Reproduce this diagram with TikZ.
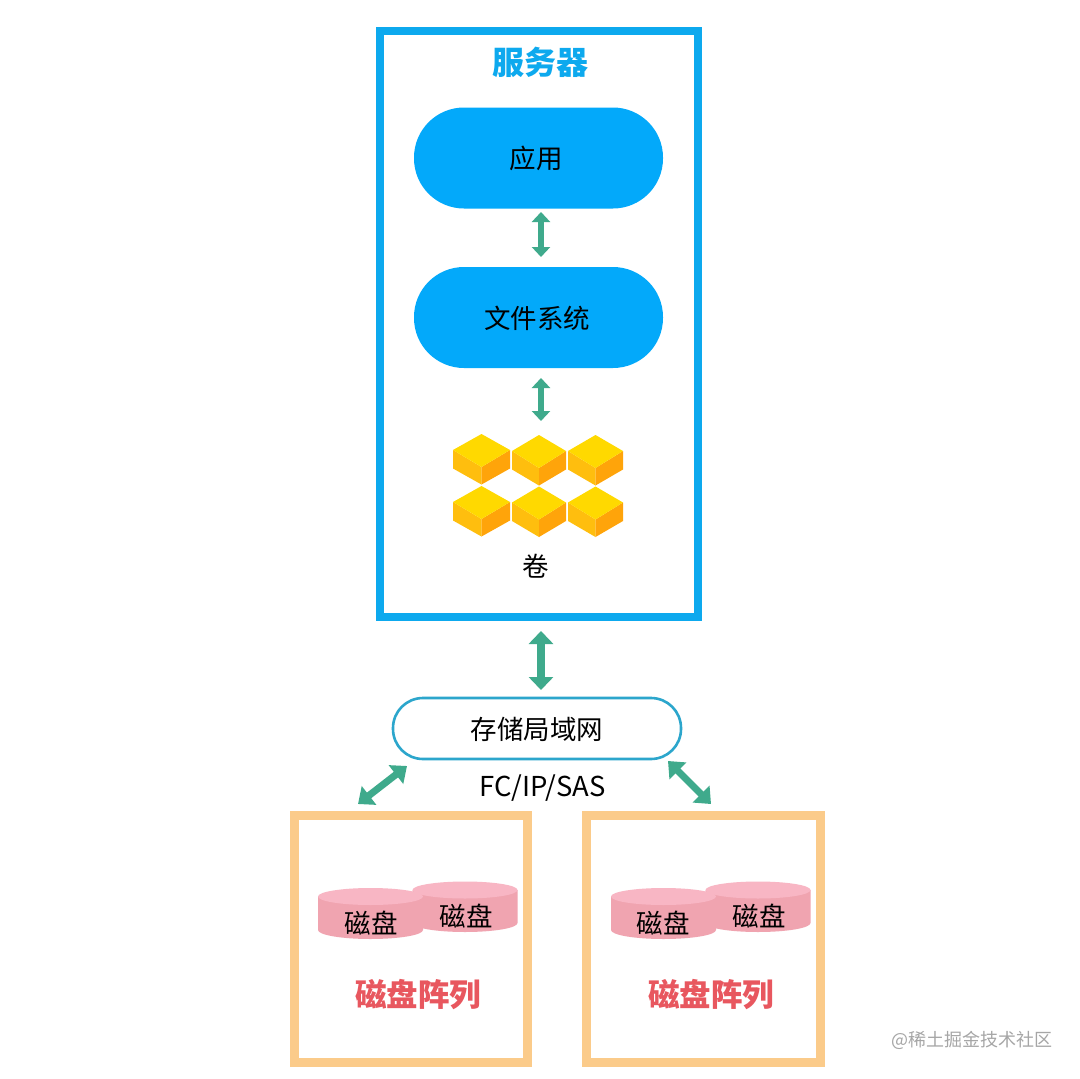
\documentclass[tikz,border=0pt]{standalone}
\usepackage{fontspec}
\setmainfont{Noto Sans CJK SC}
\usetikzlibrary{arrows.meta}
\definecolor{srvblue}{HTML}{0DA9EE}
\definecolor{pillblue}{HTML}{03A9FA}
\definecolor{sanblue}{HTML}{2CA6CC}
\definecolor{arrowgreen}{HTML}{3FAA8C}
\definecolor{boxorange}{HTML}{FBCB8A}
\definecolor{titlered}{HTML}{E8575F}
\definecolor{disktop}{HTML}{F8B6C4}
\definecolor{diskbody}{HTML}{F0A4B0}
\definecolor{cubetop}{HTML}{FFD900}
\definecolor{cubeleft}{HTML}{FFBE0E}
\definecolor{cuberight}{HTML}{FFA40A}
\definecolor{marktext}{HTML}{A6A6A6}
\tikzset{
  x=1pt,y=-1pt,
  framebox/.style={draw,fill=none,line width=#1,inner sep=0pt},
  pillbox/.style={fill=pillblue,minimum width=249pt,minimum height=101pt,rounded corners=50pt,inner sep=0pt},
  sanbox/.style={draw=sanblue,line width=2.6pt,fill=white,minimum width=288pt,minimum height=61pt,rounded corners=30pt,inner sep=0pt},
  bodytext/.style={inner sep=0pt,font=\fontsize{26.5}{27}\selectfont},
  titlelabel/.style={inner sep=0pt,font=\fontsize{#1}{#1}\selectfont\bfseries},
  bigboth/.style={draw=arrowgreen,line width=8pt,{Triangle[width=24pt,length=13pt]}-{Triangle[width=24pt,length=13pt]}},
  smallboth/.style={draw=arrowgreen,line width=6pt,{Triangle[width=18pt,length=10pt]}-{Triangle[width=18pt,length=10pt]}},
  diagboth/.style={draw=arrowgreen,line width=7pt,{Triangle[width=23pt,length=14pt]}-{Triangle[width=23pt,length=14pt]}},
}
\newcommand{\cubeshape}[3]{% centre x, top y, half width
  \fill[cubeleft] (#1-#3,#2+16) -- (#1,#2+33) -- (#1,#2+50.5) -- (#1-#3,#2+34.5) -- cycle;
  \fill[cuberight] (#1+#3,#2+16) -- (#1,#2+33) -- (#1,#2+50.5) -- (#1+#3,#2+34.5) -- cycle;
  \fill[cubetop] (#1,#2) -- (#1+#3,#2+16) -- (#1,#2+33) -- (#1-#3,#2+16) -- cycle;
}
\newcommand{\diskshape}[3]{% centre x, top ellipse y, bottom ellipse y
  \fill[diskbody] (#1-52.5,#2) -- (#1-52.5,#3) arc[start angle=180,end angle=360,x radius=52.5,y radius=-9] -- (#1+52.5,#2) -- cycle;
  \fill[disktop] (#1,#2) ellipse[x radius=52.5,y radius=8.5];
}
\begin{document}
\begin{tikzpicture}
\useasboundingbox (0,0) rectangle (1080,1079);
\fill[white] (0,0) rectangle (1080,1079);

% server
\node[framebox=8pt,draw=srvblue,minimum width=318pt,minimum height=586pt] (server) at (539,324) {};
\node[titlelabel=32,text=srvblue] (servertitle) at (540.5,62) {服务器};
\node[pillbox,bodytext] (app) at (538.5,158) {};
\node[bodytext] (applabel) at (536,158) {应用};
\node[pillbox] (fs) at (538.5,317.5) {};
\node[bodytext] (fslabel) at (537,318) {文件系统};

% volume cubes
\cubeshape{481.5}{434}{28.5}
\cubeshape{539}{435}{27}
\cubeshape{595.5}{435}{27.5}
\cubeshape{481.5}{486}{28.5}
\cubeshape{539}{486.5}{27}
\cubeshape{595.5}{486.5}{27.5}
\node[bodytext] (vollabel) at (536,566) {卷};

% network
\node[sanbox] (san) at (537,728.5) {};
\node[bodytext] (sanlabel) at (537,729) {存储局域网};
\node[inner sep=0pt,font=\fontsize{27.4}{28}\selectfont] (proto) at (542.5,788) {FC/IP/SAS};

% arrays
\node[framebox=9pt,draw=boxorange,minimum width=233pt,minimum height=247pt] (arrayA) at (411,939) {};
\node[framebox=9pt,draw=boxorange,minimum width=234pt,minimum height=247pt] (arrayB) at (703.5,939) {};

\diskshape{465}{890}{923}
\diskshape{370.5}{896.5}{930}
\node[bodytext] (diskA2) at (466,916) {磁盘};
\node[bodytext] (diskA1) at (371,923) {磁盘};
\diskshape{758}{890}{923}
\diskshape{663.5}{896.5}{930}
\node[bodytext] (diskB2) at (759,916) {磁盘};
\node[bodytext] (diskB1) at (663,923) {磁盘};
\node[titlelabel=31.5,text=titlered] (arrayAtitle) at (418,995) {磁盘阵列};
\node[titlelabel=31.5,text=titlered] (arrayBtitle) at (711,995) {磁盘阵列};

% connectors
\coordinate (a1) at (541,212);
\coordinate (a2) at (541,257);
\coordinate (b1) at (541,378);
\coordinate (b2) at (541,421);
\coordinate (c1) at (541,631);
\coordinate (c2) at (541,690);
\coordinate (d1) at (407,766);
\coordinate (d2) at (358,804);
\coordinate (e1) at (668,761);
\coordinate (e2) at (711,804);
\draw[smallboth] (a1) -- (a2);
\draw[smallboth] (b1) -- (b2);
\draw[bigboth] (c1) -- (c2);
\draw[diagboth] (d1) -- (d2);
\draw[diagboth] (e1) -- (e2);

% watermark
\node[inner sep=0pt,text=marktext,font=\fontsize{18}{18}\selectfont] (mark) at (972,1040) {@稀土掘金技术社区};
\end{tikzpicture}
\end{document}
